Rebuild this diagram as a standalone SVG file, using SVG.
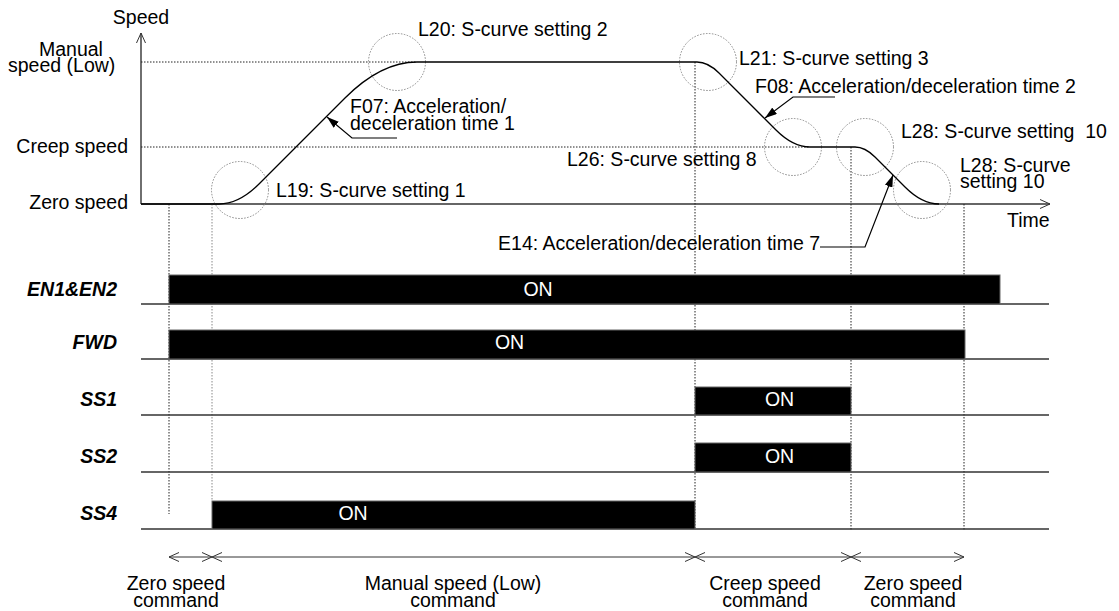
<svg xmlns="http://www.w3.org/2000/svg" width="1119" height="611" viewBox="0 0 1119 611">
  <style>
    text { font-family: "Liberation Sans", Arial, sans-serif; font-size: 19.5px; fill: #000; }
    .sig { font-weight: bold; font-style: italic; text-anchor: end; }
    .on { fill: #fff; text-anchor: middle; }
    .mid { text-anchor: middle; }
    .end { text-anchor: end; }
    .axis { stroke: #333; stroke-width: 1.4; fill: none; }
    .curve { stroke: #000; stroke-width: 1.3; fill: none; }
    .guide { stroke: #222; stroke-width: 1; stroke-dasharray: 1.5 1.5; fill: none; }
    .guide2 { stroke: #888; stroke-width: 1; stroke-dasharray: 1.5 1.5; fill: none; }
    .zone { stroke: #888; stroke-width: 1; stroke-dasharray: 1.5 1.5; fill: none; }
    .leader { stroke: #000; stroke-width: 1.2; fill: none; }
    .base { stroke: #333; stroke-width: 1.4; }
    .bar { fill: #000; stroke: #666; stroke-width: 1; }
    .dim { stroke: #333; stroke-width: 1; fill: none; }
  </style>
  <defs>
    <marker id="open" viewBox="0 0 10 10" refX="10" refY="5" markerWidth="10" markerHeight="10" markerUnits="userSpaceOnUse" orient="auto-start-reverse">
      <path d="M0,0.5 L10,5 L0,9.5" fill="none" stroke="#333" stroke-width="1"/>
    </marker>
    <marker id="solid" viewBox="0 0 12 8" refX="12" refY="4" markerWidth="12" markerHeight="8" markerUnits="userSpaceOnUse" orient="auto">
      <path d="M0,0 L12,4 L0,8 z" fill="#000"/>
    </marker>
  </defs>

  <!-- speed axes -->
  <g id="axes">
    <line class="axis" x1="141" y1="204" x2="141" y2="33" marker-end="url(#open)"/>
    <line class="axis" x1="141" y1="204" x2="1050" y2="204" marker-end="url(#open)"/>
    <text class="mid" x="141" y="24">Speed</text>
    <text x="39" y="56">Manual</text>
    <text x="8" y="72">speed (Low)</text>
    <text class="end" x="128" y="153">Creep speed</text>
    <text class="end" x="128" y="209">Zero speed</text>
    <text x="1007" y="227">Time</text>
  </g>

  <!-- level and timing guides -->
  <g id="guides">
    <line class="guide" x1="141" y1="62" x2="417" y2="62"/>
    <line class="guide" x1="141" y1="147" x2="810" y2="147"/>
    <line class="guide" x1="169" y1="204" x2="169" y2="514"/>
    <line class="guide2" x1="212" y1="204" x2="212" y2="501"/>
    <line class="guide" x1="695" y1="62" x2="695" y2="529"/>
    <line class="guide" x1="851" y1="147" x2="851" y2="530"/>
    <line class="guide" x1="964" y1="204" x2="964" y2="530"/>
  </g>

  <!-- S-curve zones -->
  <g id="zones">
    <circle class="zone" cx="240" cy="190" r="28.5"/>
    <circle class="zone" cx="397" cy="62" r="28.5"/>
    <circle class="zone" cx="708" cy="62" r="28.5"/>
    <circle class="zone" cx="793" cy="147" r="28.5"/>
    <circle class="zone" cx="865" cy="147" r="28.5"/>
    <circle class="zone" cx="922" cy="190" r="28.5"/>
  </g>

  <!-- speed profile -->
  <g id="profile">
    <path class="curve" d="M141,204 H219 Q239,204 259,184 L345,98 Q381,62 417,62 H697 Q708,62 719,73 L776,130 Q793,147 810,147 H855 Q865,147 875,157 L905,187 Q922,204 939,204"/>
  </g>

  <!-- parameter labels -->
  <g id="labels">
    <text x="418" y="36">L20: S-curve setting 2</text>
    <text x="739" y="65">L21: S-curve setting 3</text>
    <text x="755" y="93">F08: Acceleration/deceleration time 2</text>
    <text x="350" y="113">F07: Acceleration/</text>
    <text x="350" y="130">deceleration time 1</text>
    <text x="567" y="166">L26: S-curve setting 8</text>
    <text x="276" y="197">L19: S-curve setting 1</text>
    <text x="901" y="138" xml:space="preserve">L28: S-curve setting  10</text>
    <text x="960" y="172">L28: S-curve</text>
    <text x="960" y="188">setting 10</text>
    <text class="end" x="820" y="250">E14: Acceleration/deceleration time 7</text>
  </g>

  <!-- leader lines and command spans -->
  <g id="connectors">
    <polyline class="leader" points="397,138 352,138 327,117" marker-end="url(#solid)"/>
    <polyline class="leader" points="835,97 793,97 765,118" marker-end="url(#solid)"/>
    <polyline class="leader" points="820,247 865,247 893,175" marker-end="url(#solid)"/>
    <line class="dim" x1="169" y1="557" x2="212" y2="557" marker-start="url(#open)" marker-end="url(#open)"/>
    <line class="dim" x1="212" y1="557" x2="695" y2="557" marker-start="url(#open)" marker-end="url(#open)"/>
    <line class="dim" x1="695" y1="557" x2="851" y2="557" marker-start="url(#open)" marker-end="url(#open)"/>
    <line class="dim" x1="851" y1="557" x2="964" y2="557" marker-start="url(#open)" marker-end="url(#open)"/>
  </g>

  <!-- signal rows -->
  <g id="sig-en">
    <line class="base" x1="141" y1="304" x2="1049" y2="304"/>
    <rect class="bar" x="169" y="275" width="831" height="29"/>
    <text class="sig" x="117" y="296">EN1&amp;EN2</text>
    <text class="on" x="538" y="296">ON</text>
  </g>
  <g id="sig-fwd">
    <line class="base" x1="141" y1="359" x2="1049" y2="359"/>
    <rect class="bar" x="169" y="330" width="796" height="29"/>
    <text class="sig" x="117" y="349">FWD</text>
    <text class="on" x="509.5" y="349">ON</text>
  </g>
  <g id="sig-ss1">
    <line class="base" x1="141" y1="415" x2="1049" y2="415"/>
    <rect class="bar" x="695" y="387" width="156" height="28"/>
    <text class="sig" x="117" y="406">SS1</text>
    <text class="on" x="779.5" y="406">ON</text>
  </g>
  <g id="sig-ss2">
    <line class="base" x1="141" y1="472" x2="1049" y2="472"/>
    <rect class="bar" x="695" y="443" width="156" height="29"/>
    <text class="sig" x="117" y="463">SS2</text>
    <text class="on" x="779.5" y="463">ON</text>
  </g>
  <g id="sig-ss4">
    <line class="base" x1="141" y1="529" x2="1049" y2="529"/>
    <rect class="bar" x="212" y="501" width="483" height="28"/>
    <text class="sig" x="117" y="520">SS4</text>
    <text class="on" x="353" y="520">ON</text>
  </g>

  <!-- command names -->
  <g id="commands">
    <text class="mid" x="176" y="590">Zero speed</text>
    <text class="mid" x="176" y="607">command</text>
    <text class="mid" x="453" y="590">Manual speed (Low)</text>
    <text class="mid" x="453" y="607">command</text>
    <text class="mid" x="765" y="590">Creep speed</text>
    <text class="mid" x="765" y="607">command</text>
    <text class="mid" x="913" y="590">Zero speed</text>
    <text class="mid" x="913" y="607">command</text>
  </g>
</svg>
